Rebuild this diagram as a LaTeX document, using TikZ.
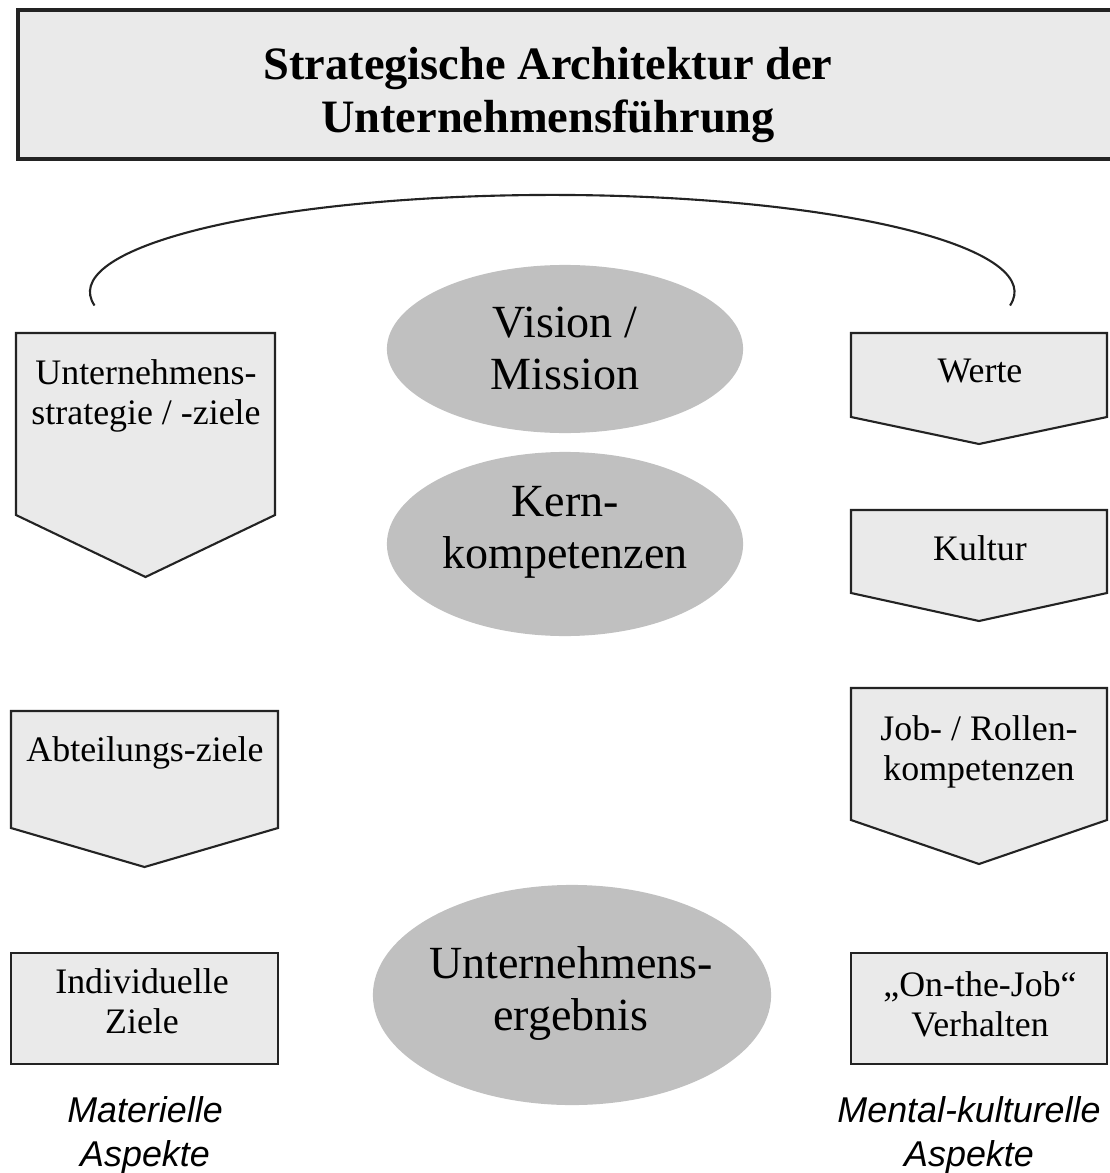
\documentclass[tikz,border=0pt]{standalone}
\usepackage{fontspec}
\setmainfont{Liberation Serif}
\newfontfamily\aspectfont{Liberation Sans}
\usetikzlibrary{shapes}
\definecolor{boxgray}{RGB}{234,234,234}
\definecolor{ovalgray}{RGB}{192,192,192}
\definecolor{linegray}{RGB}{35,35,35}
\tikzstyle{titlebox}=[draw=linegray, line width=0.9pt, fill=boxgray]
\tikzstyle{pentbox}=[draw=linegray, line width=0.6pt, fill=boxgray]
\tikzstyle{oval}=[ellipse, fill=ovalgray, inner sep=0pt]
\tikzstyle{titletext}=[align=center, font=\bfseries\fontsize{13.2}{14.8}\selectfont]
\tikzstyle{boxtext}=[align=center, font=\fontsize{10.2}{11.4}\selectfont]
\tikzstyle{ovaltext}=[align=center, font=\fontsize{13.1}{14.8}\selectfont]
\tikzstyle{aspect}=[align=center, font=\aspectfont\itshape\fontsize{10.2}{12.5}\selectfont]

\begin{document}
\begin{tikzpicture}[x=0.01cm, y=-0.01cm]

    \useasboundingbox (0,0) rectangle (1109,1173);

    \path[titlebox] (18,10) rectangle (1125,159);
    \node[titletext] (title) at (548,95) {Strategische Architektur der\\Unternehmensführung};

    \draw[linegray, line width=0.6pt] (94.5,305.5) arc[start angle=188, end angle=-8, x radius=4.62cm, y radius=0.97cm];

     \foreach \xa/\xb/\ya/\yb/\yc in {16/275/333/515/577, 11/278/711/828/867, 851/1107/333/417/444, 851/1107/510/593/621, 851/1107/688/820/864}
        \path[pentbox] (\xa,\ya) -- (\xb,\ya) -- (\xb,\yb) -- ({(\xa+\xb)/2},\yc) -- (\xa,\yb) -- cycle;

     \foreach \xa/\xb in {11/278, 851/1107}
        \path[pentbox] (\xa,953) rectangle (\xb,1064);

     \foreach \x/\y/\w/\h/\name in {565/349/3.56cm/1.68cm/vision, 565/544/3.56cm/1.84cm/kern, 572/995/3.98cm/2.20cm/ergebnis}
        \node[oval, minimum width=\w, minimum height=\h] (\name) at (\x,\y) {};

   \node[ovaltext] (visiontext) at (565,348) {Vision /\\Mission};
   \node[ovaltext] (kerntext) at (565,532) {Kern-\\kompetenzen};
   \node[ovaltext] (ergebnistext) at (571,993) {Unternehmens-\\ergebnis};

   \node[boxtext] (strat) at (146,396) {Unternehmens-\\strategie / -ziele};
   \node[boxtext] (abteilung) at (145,753) {Abteilungs-ziele};
   \node[boxtext] (individuell) at (142,1001) {Individuelle\\Ziele};

   \node[boxtext] (werte) at (980,371) {Werte};
   \node[boxtext] (kultur) at (980,548) {Kultur};
   \node[boxtext] (rollen) at (979,752) {Job- / Rollen-\\kompetenzen};
   \node[boxtext] (verhalten) at (980,1004) {„On-the-Job“\\Verhalten};

   \node[aspect] (materiell) at (145,1135) {Materielle\\Aspekte};
   \node[aspect] (mental) at (969,1135) {Mental-kulturelle\\Aspekte};

\end{tikzpicture}
\end{document}
